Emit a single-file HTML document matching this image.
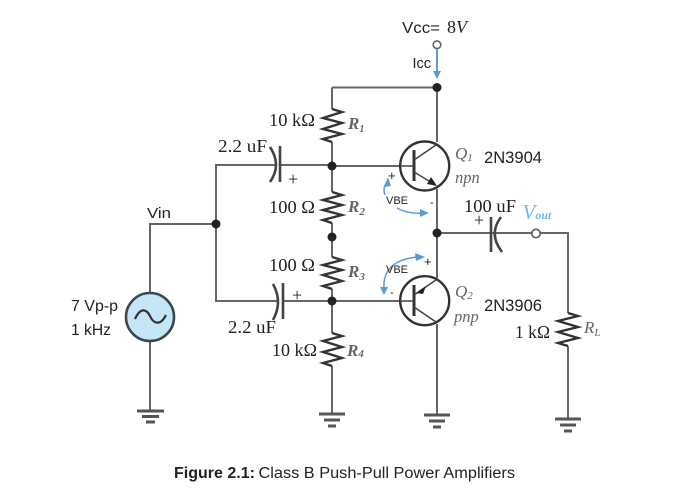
<!DOCTYPE html>
<html><head><meta charset="utf-8"><style>
html,body{margin:0;padding:0;background:#fff}
svg{display:block}
.s{font-family:"Liberation Sans",sans-serif;fill:#222}
.t{font-family:"Liberation Serif",serif;fill:#222;font-size:18px}
.i{font-family:"Liberation Serif",serif;font-style:italic;fill:#666}
.w{stroke:#666;stroke-width:2;fill:none}
.k{stroke:#333;stroke-width:2.4;fill:none}
.b{stroke:#5b9bd5;stroke-width:1.5;fill:none}
.a{fill:#5b9bd5}
.d{fill:#222}
</style></head><body>
<svg width="687" height="495" viewBox="0 0 687 495" xmlns="http://www.w3.org/2000/svg">
<!-- wires -->
<path class="w" d="M332 87.5H437M437 87.5V142M437 189V278M437 233H494M496 233H532M540 233H568V313M568 346V419"/>
<path class="w" d="M332 87.5V109M332 142V192M332 223V257M332 289V333M332 366V414"/>
<path class="w" d="M275 165H216V301H277M283 301H332M280 165H332M332 166H400M332 301H400M216 224H150V293M150 341V411"/>
<path class="w" d="M437 324V415"/>
<!-- resistors -->
<path class="k" d="M332 109L342 112L323 118L342 123L323 129L342 134L323 139L332 142"/>
<path class="k" d="M332 192L342 195L323 200L342 205L323 210L342 215L323 220L332 223"/>
<path class="k" d="M332 257L342 260L323 265L342 270L323 275L342 281L323 286L332 289"/>
<path class="k" d="M332 333L342 336L323 341L342 347L323 352L342 358L323 363L332 366"/>
<path class="k" d="M568 313L578 316L558 321L578 327L558 332L578 338L558 343L568 346"/>
<!-- dots -->
<circle class="d" cx="437" cy="87.5" r="4.5"/><circle class="d" cx="332" cy="166" r="4.5"/>
<circle class="d" cx="332" cy="237" r="4.5"/><circle class="d" cx="332" cy="301" r="4.5"/>
<circle class="d" cx="216" cy="224" r="4.5"/><circle class="d" cx="437" cy="233" r="4.5"/>
<!-- terminals -->
<circle cx="437" cy="44.7" r="3.8" fill="#fff" stroke="#666" stroke-width="1.6"/>
<circle cx="536" cy="233.5" r="4.2" fill="#fff" stroke="#666" stroke-width="1.8"/>
<!-- Icc arrow -->
<path d="M437 49V74" stroke="#5b9bd5" stroke-width="2" fill="none"/>
<path class="a" d="M433 71H441L437 79Z"/>
<!-- transistors -->
<circle cx="424.7" cy="166" r="24.5" fill="#fff" stroke="#333" stroke-width="2.4"/>
<path d="M414 150V181" stroke="#333" stroke-width="3" fill="none"/>
<path d="M400 166H414M414 160L436 145M414 172L434 184" stroke="#444" stroke-width="1.6" fill="none"/>
<path class="d" d="M437 186L427 184L431 177Z"/>
<circle cx="424.7" cy="300.7" r="24.5" fill="#fff" stroke="#333" stroke-width="2.4"/>
<path d="M414 285V316" stroke="#333" stroke-width="3" fill="none"/>
<path d="M400 301H414M414 295L436 280M414 307L436 322" stroke="#444" stroke-width="1.6" fill="none"/>
<path class="d" d="M416 293L426 286L423 294Z"/>
<!-- capacitors -->
<path d="M280 146V182" stroke="#444" stroke-width="2.6" fill="none"/>
<path d="M270 147Q282 165 270 182" stroke="#444" stroke-width="2.6" fill="none"/>
<path d="M283 283V319" stroke="#444" stroke-width="2.6" fill="none"/>
<path d="M273 284Q283 302 273 320" stroke="#444" stroke-width="2.6" fill="none"/>
<path d="M491 217V252" stroke="#444" stroke-width="2.6" fill="none"/>
<path d="M501 217Q488 234 502 252" stroke="#444" stroke-width="2.6" fill="none"/>
<!-- source -->
<circle cx="150" cy="317" r="24" fill="#c4e6f7" stroke="#3a4650" stroke-width="2.6"/>
<path d="M135 319C141 306 147 310 150 316C153 323 160 327 166 315" stroke="#333" stroke-width="2.2" fill="none"/>
<!-- grounds -->
<g stroke="#555" fill="none" stroke-width="3">
<path d="M137 411H164M142 416.5H159M146 422H155"/>
<path d="M319 414H345M324 420H340M328 426H336"/>
<path d="M424 415H450M429 421H445M433 427H441"/>
<path d="M555 419H581M560 425H576M564 431H572"/>
</g>
<!-- VBE arrows -->
<path class="b" d="M385 195C383 190 384 186 387 182"/><path class="a" d="M384 187L388 177L391 186Z"/>
<path class="b" d="M397 208C404 212 413 214 424 213"/><path class="a" d="M420 209L429 213L420 217Z"/>
<path class="b" d="M384 288C383 272 392 259 418 257"/><path class="a" d="M415 253L425 257L416 261Z"/>
<path class="a" d="M380 287H388L384 295Z"/>
<!-- labels -->
<text class="s" x="402" y="33" font-size="16" textLength="38" lengthAdjust="spacingAndGlyphs">Vcc=</text><text class="t" x="447" y="33" font-size="17">8<tspan font-style="italic">V</tspan></text>
<text class="s" x="412.5" y="68" font-size="15" textLength="18.5" lengthAdjust="spacingAndGlyphs">Icc</text>
<text class="t" x="269" y="126" textLength="46" lengthAdjust="spacingAndGlyphs">10 kΩ</text>
<text class="t" x="218" y="152" textLength="49" lengthAdjust="spacingAndGlyphs">2.2 uF</text>
<text class="t" x="269" y="213" textLength="46" lengthAdjust="spacingAndGlyphs">100 Ω</text>
<text class="t" x="269" y="271" textLength="46" lengthAdjust="spacingAndGlyphs">100 Ω</text>
<text class="t" x="228" y="333" textLength="48" lengthAdjust="spacingAndGlyphs">2.2 uF</text>
<text class="t" x="272" y="356" textLength="45" lengthAdjust="spacingAndGlyphs">10 kΩ</text>
<text class="t" x="464" y="212" textLength="52" lengthAdjust="spacingAndGlyphs">100 uF</text>
<text class="t" x="515" y="338" textLength="35" lengthAdjust="spacingAndGlyphs">1 kΩ</text>
<text class="s" x="147" y="218" font-size="15" textLength="24" lengthAdjust="spacingAndGlyphs">Vin</text>
<text class="s" x="71" y="311" font-size="15.5" textLength="47" lengthAdjust="spacingAndGlyphs">7 Vp-p</text>
<text class="s" x="71" y="335" font-size="15.5" textLength="40" lengthAdjust="spacingAndGlyphs">1 kHz</text>
<text class="s" x="484" y="163" font-size="16.5" textLength="58" lengthAdjust="spacingAndGlyphs">2N3904</text>
<text class="s" x="484" y="311" font-size="16.5" textLength="58" lengthAdjust="spacingAndGlyphs">2N3906</text>
<text class="i" x="348" y="129" font-size="17" font-weight="bold">R<tspan font-size="10" dy="3">1</tspan></text>
<text class="i" x="348" y="212" font-size="17" font-weight="bold">R<tspan font-size="11" dy="3">2</tspan></text>
<text class="i" x="348" y="277" font-size="17" font-weight="bold">R<tspan font-size="11" dy="3">3</tspan></text>
<text class="i" x="347" y="356" font-size="17" font-weight="bold">R<tspan font-size="11" dy="1">4</tspan></text>
<text class="i" x="584" y="333" font-size="17">R<tspan font-size="11" dy="3">L</tspan></text>
<text class="i" x="455" y="159" font-size="17">Q<tspan font-size="11" dy="2">1</tspan></text>
<text class="i" x="455" y="297" font-size="17">Q<tspan font-size="11" dy="2">2</tspan></text>
<text class="i" x="455" y="183" font-size="16.5">npn</text>
<text class="i" x="454" y="322" font-size="16.5">pnp</text>
<text x="522.5" y="219" font-family="Liberation Serif,serif" font-style="italic" font-size="21" fill="#6cc0e8">V<tspan font-size="12" font-weight="bold" dy="0">out</tspan></text>
<text class="s" x="386" y="204" font-size="11">VBE</text>
<text class="s" x="386" y="273" font-size="11">VBE</text>
<text class="s" x="388" y="180" font-size="13">+</text>
<text class="s" x="424" y="266" font-size="13">+</text>
<text class="s" x="430" y="206" font-size="11">-</text>
<text class="s" x="390" y="296" font-size="11">-</text>
<text class="t" x="288" y="185" font-size="12">+</text>
<text class="t" x="292" y="301" font-size="13">+</text>
<text class="t" x="474" y="226" font-size="13">+</text>
<text x="174" y="478" font-family="Liberation Sans,sans-serif" font-size="15.5" font-weight="bold" fill="#222" textLength="81" lengthAdjust="spacingAndGlyphs">Figure 2.1:</text>
<text x="258.5" y="478" font-family="Liberation Sans,sans-serif" font-size="15.5" fill="#222" textLength="256.5" lengthAdjust="spacingAndGlyphs">Class B Push-Pull Power Amplifiers</text>
</svg>
</body></html>
